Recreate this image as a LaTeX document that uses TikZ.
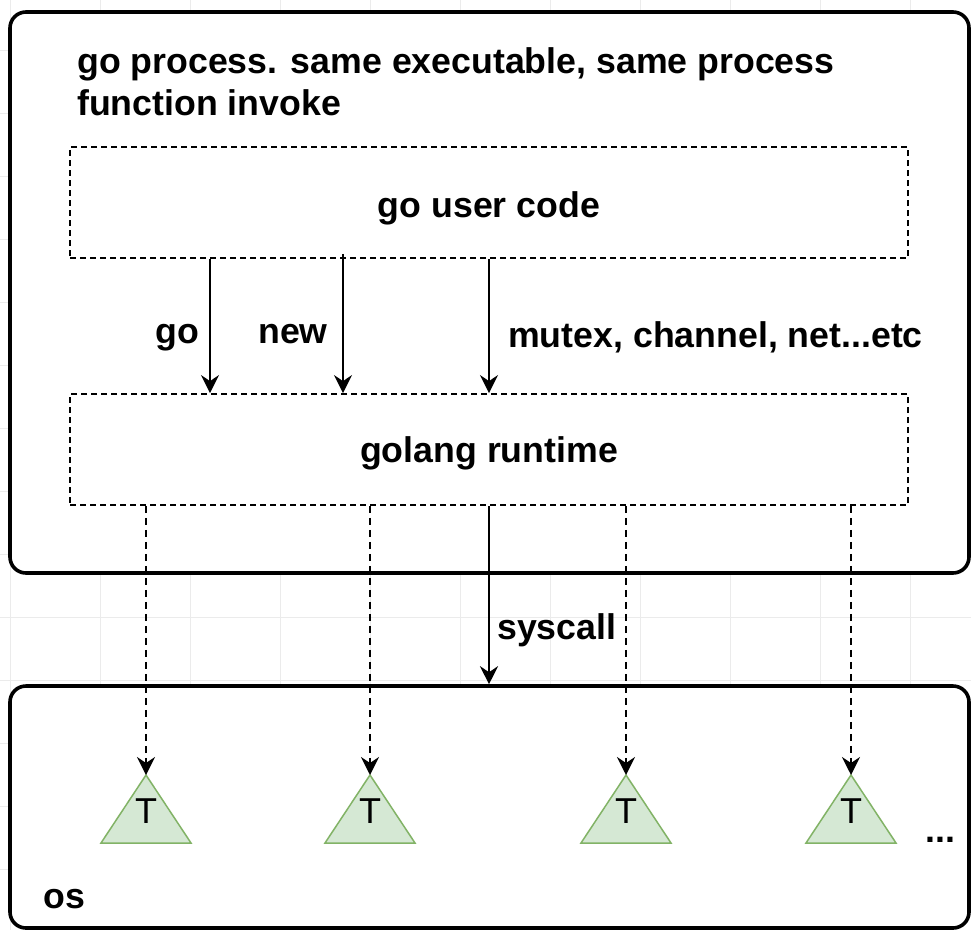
\documentclass[tikz,border=0pt]{standalone}
\usepackage{fontspec}
\setmainfont{Liberation Sans}
\usetikzlibrary{arrows.meta}
\definecolor{trifill}{HTML}{D5E8D4}
\definecolor{tristroke}{HTML}{82B366}
\begin{document}
\begin{tikzpicture}[x=1pt,y=-1pt,
  gridline/.style={draw=black!8, line width=0.6pt},
  outerbox/.style={draw=black, line width=3.6pt, rounded corners=16pt, fill=white, inner sep=0pt},
  dbox/.style={draw=black, line width=1.8pt, dash pattern=on 6pt off 4pt, fill=white, minimum width=838pt, minimum height=111pt, inner sep=0pt},
  lbl/.style={font=\fontsize{35.7}{42}\selectfont\bfseries, inner sep=0pt},
  tlbl/.style={font=\fontsize{36}{40}\selectfont, inner sep=0pt},
  arr/.style={line width=2.4pt, -{Stealth[length=18pt,width=18pt,inset=6pt]}},
  darr/.style={line width=2.6pt, dash pattern=on 7pt off 5pt, -{Stealth[length=18pt,width=18pt,inset=6pt]}},
  tri/.style={draw=tristroke, fill=trifill, line width=1.5pt, line join=miter}
]
\useasboundingbox (0,0) rectangle (971,930);
\fill[white] (0,0) rectangle (971,930);
% faint background grid
\foreach \gx in {10,100,...,970} \draw[gridline] (\gx,0) -- (\gx,930);
\foreach \gy in {50,113,...,930} \draw[gridline] (0,\gy) -- (971,\gy);

% containers
\node[outerbox, minimum width=959pt, minimum height=561pt] (proc) at (489.5,292.5) {};
\node[outerbox, minimum width=959pt, minimum height=242pt] (os) at (489.5,807) {};

% title
\node[lbl, anchor=base west] (title1) at (77,73) {go process. same executable, same process};
\node[lbl, anchor=base west] (title2) at (77,115) {function invoke};

% dashed layers
\node[dbox] (user) at (489,202.5) {};
\node[lbl, anchor=base] (usertxt) at (489,217) {go user code};
\node[dbox] (runtime) at (489,449.5) {};
\node[lbl, anchor=base] (runtimetxt) at (489,462) {golang runtime};

% arrows user -> runtime
\coordinate (xgo) at (210,0);
\coordinate (xnew) at (343,0);
\coordinate (xmut) at (489,0);
\draw[arr] (user.south -| xgo) -- (runtime.north -| xgo);
\draw[arr] ([yshift=5pt]user.south -| xnew) -- (runtime.north -| xnew);
\draw[arr] (user.south -| xmut) -- (runtime.north -| xmut);
\node[lbl, anchor=base west] (lgo) at (155,343) {go};
\node[lbl, anchor=base west] (lnew) at (258,343) {new};
\node[lbl, anchor=base west] (lmut) at (508,347) {mutex, channel, net...etc};

% syscall
\draw[arr] (runtime.south -| xmut) -- (os.north -| xmut);
\node[lbl, anchor=base west] (lsys) at (497,639) {syscall};

% threads
\foreach \i/\tx in {1/146,2/370,3/626,4/851}{
  \draw[tri] (\tx-45,843) -- (\tx,775) -- (\tx+45,843) -- cycle;
  \coordinate (apex\i) at (\tx,775);
  \node[tlbl, anchor=base] (t\i) at (\tx,823) {T};
  \draw[darr] (runtime.south -| apex\i) -- (apex\i);
}
\node[lbl, anchor=base west] (dots) at (925,842) {...};
\node[lbl, anchor=base west] (oslbl) at (43,908) {os};
\end{tikzpicture}
\end{document}
